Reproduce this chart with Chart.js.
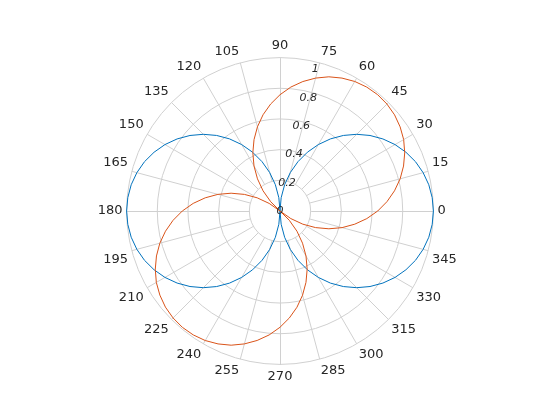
<!DOCTYPE html>
<html lang="en">
<head>
  <meta charset="UTF-8">
  <title>Polar plot</title>
  <script src="https://cdn.jsdelivr.net/npm/chart.js"></script>
  <style>
    body { margin: 0; background: #fff; }
    canvas { display: block; }
  </style>
</head>
<body>
  <canvas id="polarChart" width="560" height="420"></canvas>
  <script>
    // angles in degrees, counter-clockwise from the right
    const angles = [
      0, 5, 10, 15, 20, 25, 30, 35, 40, 45, 50, 55, 60, 65, 70, 75, 80, 85,
      90, 95, 100, 105, 110, 115, 120, 125, 130, 135, 140, 145, 150, 155, 160, 165, 170, 175,
      180, 185, 190, 195, 200, 205, 210, 215, 220, 225, 230, 235, 240, 245, 250, 255, 260, 265,
      270, 275, 280, 285, 290, 295, 300, 305, 310, 315, 320, 325, 330, 335, 340, 345, 350, 355
    ];

    const blueR = [
      1.000, 0.996, 0.985, 0.966, 0.940, 0.906, 0.866, 0.819, 0.766, 0.707, 0.643, 0.574, 0.500, 0.423, 0.342, 0.259, 0.174, 0.087,
      0.000, 0.087, 0.174, 0.259, 0.342, 0.423, 0.500, 0.574, 0.643, 0.707, 0.766, 0.819, 0.866, 0.906, 0.940, 0.966, 0.985, 0.996,
      1.000, 0.996, 0.985, 0.966, 0.940, 0.906, 0.866, 0.819, 0.766, 0.707, 0.643, 0.574, 0.500, 0.423, 0.342, 0.259, 0.174, 0.087,
      0.000, 0.087, 0.174, 0.259, 0.342, 0.423, 0.500, 0.574, 0.643, 0.707, 0.766, 0.819, 0.866, 0.906, 0.940, 0.966, 0.985, 0.996
    ];

    const redR = [
      0.637, 0.700, 0.758, 0.811, 0.857, 0.897, 0.931, 0.956, 0.975, 0.986, 0.990, 0.986, 0.975, 0.956, 0.931, 0.897, 0.857, 0.811,
      0.758, 0.700, 0.637, 0.568, 0.495, 0.419, 0.339, 0.256, 0.172, 0.086, 0.000, 0.086, 0.172, 0.256, 0.339, 0.419, 0.495, 0.568,
      0.637, 0.700, 0.758, 0.811, 0.857, 0.897, 0.931, 0.956, 0.975, 0.986, 0.990, 0.986, 0.975, 0.956, 0.931, 0.897, 0.857, 0.811,
      0.758, 0.700, 0.637, 0.568, 0.495, 0.419, 0.339, 0.256, 0.172, 0.086, 0.000, 0.086, 0.172, 0.256, 0.339, 0.419, 0.495, 0.568
    ];

    const angleTicks = [0, 15, 30, 45, 60, 75, 90, 105, 120, 135, 150, 165,
                        180, 195, 210, 225, 240, 255, 270, 285, 300, 315, 330, 345];
    const radiusTicks = [0, 0.2, 0.4, 0.6, 0.8, 1];
    const radiusTickAngle = 76;

    const gridColor = "#d0d0d0";
    const textColor = "#262626";

    // radar goes clockwise, so walk the angles backwards after 0
    const order = [0];
    for (let i = angles.length - 1; i > 0; i--) order.push(i);

    const toXY = (s, value, deg) => {
      const d = s.getDistanceFromCenterForValue(value);
      const t = deg * Math.PI / 180;
      return { x: s.xCenter + d * Math.cos(t), y: s.yCenter - d * Math.sin(t) };
    };

    // theta grid lines start at the first rho circle, like matlab
    const spokes = {
      id: "spokes",
      beforeDatasetsDraw(chart) {
        const s = chart.scales.r;
        const ctx = chart.ctx;
        ctx.save();
        ctx.strokeStyle = gridColor;
        ctx.lineWidth = 1;
        angleTicks.forEach(a => {
          const p0 = toXY(s, radiusTicks[1], a);
          const p1 = toXY(s, radiusTicks[radiusTicks.length - 1], a);
          const off = (a % 90 === 0) ? 0.5 : 0;
          ctx.beginPath();
          ctx.moveTo(p0.x + off, p0.y + off);
          ctx.lineTo(p1.x + off, p1.y + off);
          ctx.stroke();
        });
        ctx.restore();
      }
    };

    const rhoLabels = {
      id: "rhoLabels",
      afterDatasetsDraw(chart) {
        const s = chart.scales.r;
        const ctx = chart.ctx;
        ctx.save();
        ctx.font = "italic 11px 'DejaVu Sans'";
        ctx.fillStyle = textColor;
        ctx.textAlign = "center";
        ctx.textBaseline = "middle";
        radiusTicks.forEach(v => {
          const p = toXY(s, v * 0.95, radiusTickAngle);
          ctx.fillText(String(v), p.x, p.y);
        });
        ctx.restore();
      }
    };

    const ctx = document.getElementById("polarChart").getContext("2d");
    new Chart(ctx, {
      type: "radar",
      data: {
        labels: order.map(i => angles[i]),
        datasets: [
          {
            data: order.map(i => blueR[i]),
            borderColor: "#0072BD",
            borderWidth: 1,
            pointRadius: 0,
            fill: false,
            order: 1
          },
          {
            data: order.map(i => redR[i]),
            borderColor: "#D95319",
            borderWidth: 1,
            pointRadius: 0,
            fill: false,
            order: 0
          }
        ]
      },
      options: {
        responsive: false,
        animation: false,
        layout: { padding: { top: 38, bottom: 35 } },
        plugins: {
          legend: { display: false },
          tooltip: { enabled: false }
        },
        scales: {
          r: {
            startAngle: 90,
            min: 0,
            max: 1,
            ticks: { display: false, stepSize: 0.2 },
            grid: { circular: true, color: gridColor, lineWidth: 1 },
            angleLines: { display: false },
            pointLabels: {
              padding: 4,
              color: textColor,
              font: { family: "DejaVu Sans", size: 13 },
              callback: (label) => angleTicks.includes(label) ? String(label) : ""
            }
          }
        }
      },
      plugins: [spokes, rhoLabels]
    });
  </script>
</body>
</html>
